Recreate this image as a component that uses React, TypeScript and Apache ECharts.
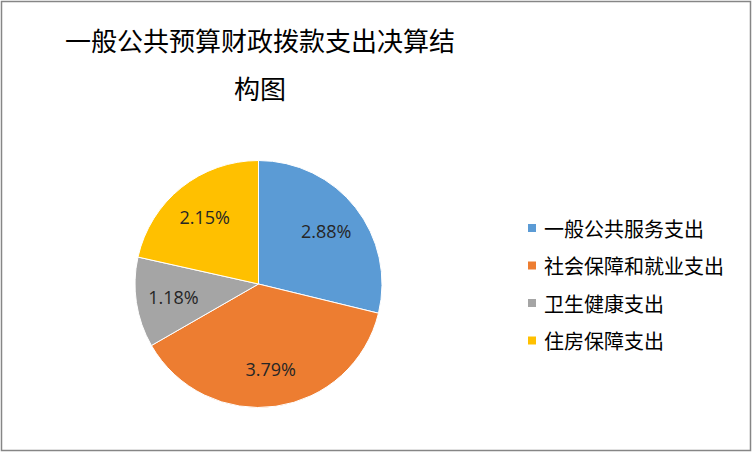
import React, { useEffect, useRef } from "react";
import * as echarts from "echarts";

const categories = ["一般公共服务支出", "社会保障和就业支出", "卫生健康支出", "住房保障支出"];
const values = [2.88, 3.79, 1.18, 2.15];
const colors = ["#5B9BD5", "#ED7D31", "#A5A5A5", "#FFC000"];
const titleText = "一般公共预算财政拨款支出决算结\n构图";

export default function App() {
  const ref = useRef<HTMLDivElement>(null);
  useEffect(() => {
    document.body.style.margin = "0";
    const chart = echarts.init(ref.current!, null, { renderer: "svg" });
    const data = categories.map((name, i) => ({ name, value: values[i] }));
    chart.setOption({
      animation: false,
      backgroundColor: "#ffffff",
      color: colors,
      title: {
        text: titleText,
        left: 260,
        top: 15,
        padding: 0,
        textAlign: "center",
        textStyle: {
          fontFamily: "Noto Sans CJK SC",
          fontSize: 26,
          fontWeight: "normal",
          color: "#000000",
          lineHeight: 48,
        },
      },
      legend: {
        orient: "vertical",
        left: 526,
        top: 218,
        padding: 0,
        icon: "rect",
        itemWidth: 10,
        itemHeight: 10,
        itemGap: 17.5,
        data: categories,
        textStyle: {
          fontFamily: "Noto Sans CJK SC",
          fontSize: 20,
          lineHeight: 20,
          color: "#000000",
          padding: [0, 0, 0, 2],
        },
      },
      graphic: [
        {
          type: "rect",
          shape: { x: 1.5, y: 1.5, width: 749, height: 449 },
          style: { fill: "none", stroke: "#868686", lineWidth: 1.5 },
          silent: true,
        },
      ],
      series: [
        {
          type: "pie",
          center: [258.5, 284],
          radius: [0, 123.5],
          startAngle: 90,
          clockwise: true,
          data,
          label: { show: false },
          labelLine: { show: false },
          itemStyle: { borderColor: "#ffffff", borderWidth: 1 },
          emphasis: { disabled: true },
        },
        {
          type: "pie",
          center: [258.5, 284],
          radius: [0, 166],
          startAngle: 90,
          clockwise: true,
          silent: true,
          data,
          itemStyle: { color: "rgba(0,0,0,0)", borderWidth: 0 },
          label: {
            show: true,
            position: "inside",
            formatter: (p: any) => p.value.toFixed(2) + "%",
            fontFamily: "Open Sans",
            fontSize: 18,
            color: "#262626",
          },
          labelLine: { show: false },
          emphasis: { disabled: true },
        },
      ],
    });
    return () => chart.dispose();
  }, []);
  return <div ref={ref} style={{ width: 753, height: 453 }} />;
}
